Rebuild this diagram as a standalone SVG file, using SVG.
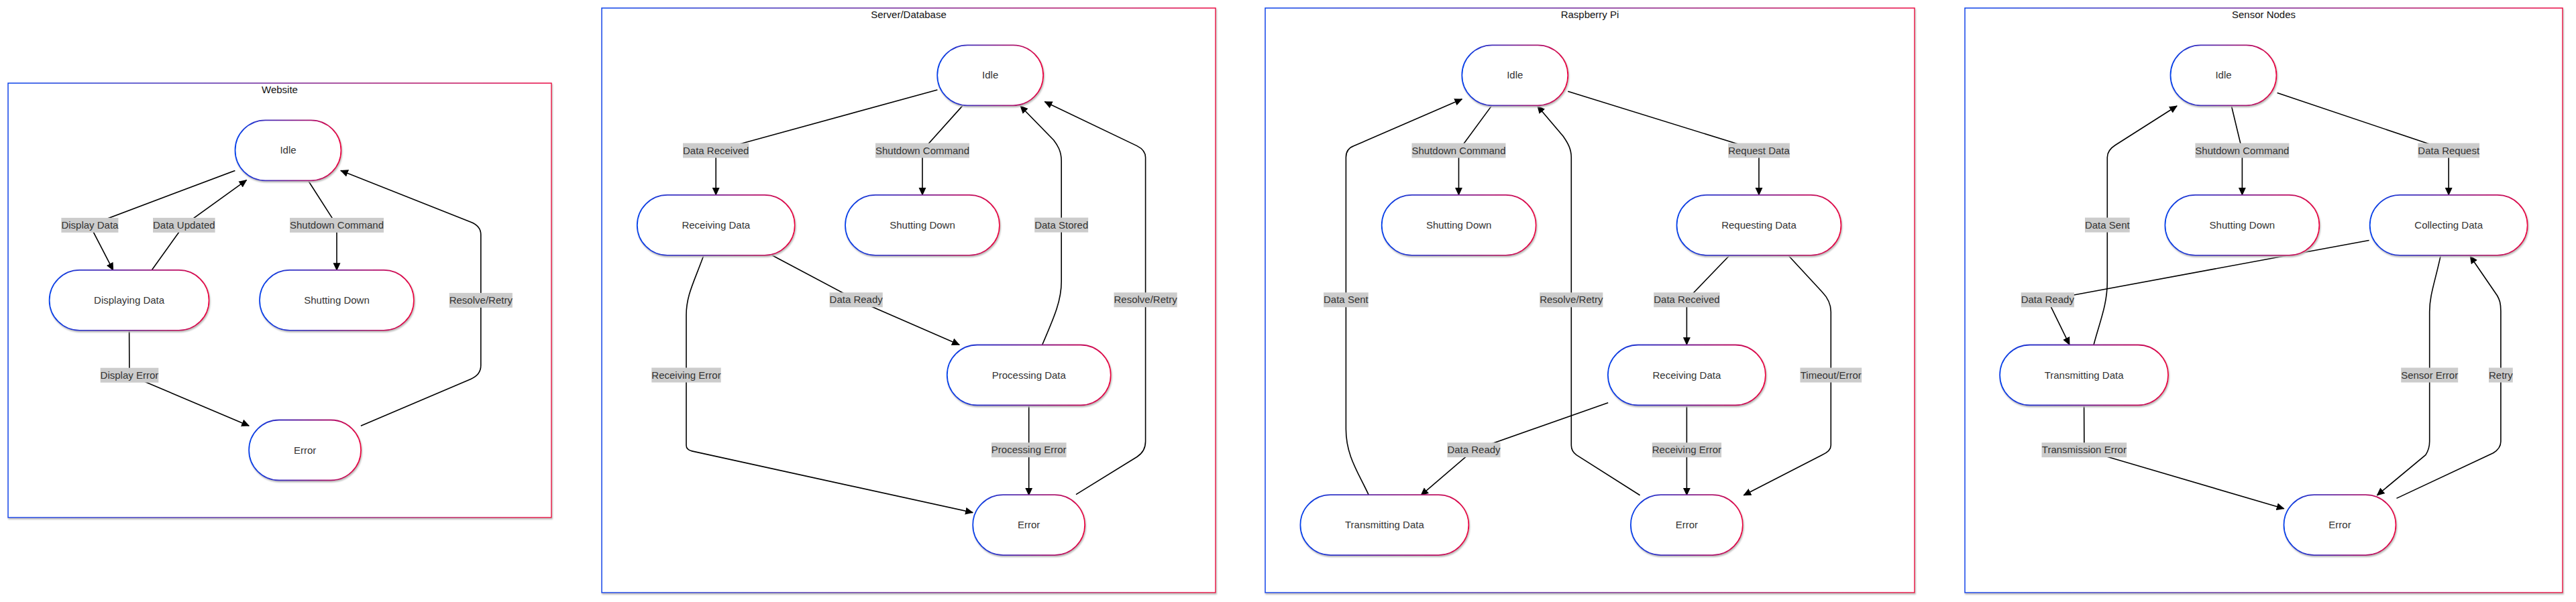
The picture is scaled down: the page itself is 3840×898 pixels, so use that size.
<svg xmlns="http://www.w3.org/2000/svg" width="3840" height="898" viewBox="0 0 3840 898">
<style>
.bg{fill:#ffffff}
.cluster{fill:#ffffff;stroke:url(#grad);stroke-width:1.5;filter:url(#shadow)}
.ctitle{font-family:"Liberation Sans",Arial,sans-serif;font-size:15px;fill:#111;text-anchor:middle}
.node rect{fill:#ffffff;stroke:url(#grad);stroke-width:1.8;filter:url(#shadow)}
.node text{font-family:"Liberation Sans",Arial,sans-serif;font-size:15px;fill:#333;text-anchor:middle}
.edge{fill:none;stroke:#000;stroke-width:1.6;marker-end:url(#arrow)}
.lbl rect{fill:#cccccc}
.lbl text{font-family:"Liberation Sans",Arial,sans-serif;font-size:15px;fill:#333;text-anchor:middle}
</style>
<defs>
<linearGradient id="grad" x1="0" y1="0" x2="1" y2="0">
<stop offset="0" stop-color="#0042eb"/>
<stop offset="1" stop-color="#eb0042"/>
</linearGradient>
<filter id="shadow" x="-10%" y="-10%" width="120%" height="130%">
<feDropShadow dx="1" dy="2" stdDeviation="1" flood-color="#b9b9b9" flood-opacity="1"/>
</filter>
<marker id="arrow" viewBox="0 0 12 12" refX="11" refY="6" markerWidth="12" markerHeight="12" markerUnits="userSpaceOnUse" orient="auto">
<path d="M0,0.5 L12,6 L0,11.5 z" fill="#000"/>
</marker>
</defs>
<rect class="bg" x="0" y="0" width="3840" height="898"/>

<g id="clusters">
<g id="cluster-website"><rect class="cluster" x="12" y="124" width="810" height="648"/><text class="ctitle" x="417" y="139">Website</text></g>
<g id="cluster-server"><rect class="cluster" x="897" y="12" width="915" height="872"/><text class="ctitle" x="1354.5" y="27">Server/Database</text></g>
<g id="cluster-rpi"><rect class="cluster" x="1886" y="12" width="968" height="872"/><text class="ctitle" x="2370" y="27">Raspberry Pi</text></g>
<g id="cluster-sensor"><rect class="cluster" x="2929" y="12" width="891" height="872"/><text class="ctitle" x="3374.5" y="27">Sensor Nodes</text></g>
</g>

<g id="connectors">
<!-- Website -->
<path class="edge" d="M350.4,254.4 L133.9,335.9 L168.7,403.2"/>
<path class="edge" d="M226,403.2 L274.3,335.9 L367.5,268.7"/>
<path class="edge" d="M459,268.7 L502,335.9 L502,403.2"/>
<path class="edge" d="M192.6,492.5 L192.9,559.7 L371.2,635.2"/>
<path class="edge" d="M537.9,635.2 L701.8,565.4 Q716.8,559 716.8,545 L716.8,350 Q716.8,337 701.8,331.2 L507.9,254.4"/>
<!-- Server -->
<path class="edge" d="M1397.4,134 L1067.2,224.5 L1067.2,290.9"/>
<path class="edge" d="M1435.6,156.9 L1375,224.5 L1375,290.9"/>
<path class="edge" d="M1150.8,380.8 L1276.2,447.3 L1430.1,514.3"/>
<path class="edge" d="M1553.7,514.3 C1570,476 1582.2,450 1582.2,420 L1582.2,240 C1582.2,225 1576,216 1570.7,209 L1521,158"/>
<path class="edge" d="M1604,737.6 L1694.9,681.5 Q1707.6,673.5 1707.6,658.6 L1707.6,234.8 Q1707.6,224 1694.9,217.6 L1557.4,151.8"/>
<path class="edge" d="M1049,380.8 C1035,420 1023,440 1023,470 L1023,664.3 Q1023,671 1031.5,672.9 L1450.1,764.6"/>
<path class="edge" d="M1533.7,604.2 L1533.7,738.8"/>
<!-- Raspberry Pi -->
<path class="edge" d="M2224.2,156.9 L2174.5,224.5 L2174.5,290.9"/>
<path class="edge" d="M2337.2,136.3 L2622,224.5 L2622,290.9"/>
<path class="edge" d="M2578.4,380.8 L2514.4,447.3 L2514.4,514.3"/>
<path class="edge" d="M2665.6,380.8 L2716,435.3 Q2729.3,449 2729.3,465 L2729.3,664.3 Q2729.3,673 2716,678.7 L2599.3,738.8"/>
<path class="edge" d="M2397.2,600.8 L2197,671.2 L2118.1,738.8"/>
<path class="edge" d="M2514.4,604.2 L2514.4,738.8"/>
<path class="edge" d="M2040.5,738.8 C2025,705 2006.4,680 2006.4,640 L2006.4,234.8 Q2006.4,222 2018.4,217.6 L2179.4,147.8"/>
<path class="edge" d="M2444.6,738.8 L2349.9,678.7 Q2342.3,673 2342.3,664.3 L2342.3,234.8 C2342.3,222 2337,213 2330,203 L2291.8,158"/>
<!-- Sensor Nodes -->
<path class="edge" d="M3326.4,158 L3342.4,224.5 L3342.4,290.9"/>
<path class="edge" d="M3394.6,138.6 L3650.2,224.5 L3650.2,290.9"/>
<path class="edge" d="M3531.6,358.5 L3052.3,447.3 L3085,514.3"/>
<path class="edge" d="M3121.1,514.3 C3130,480 3141.3,455 3141.3,420 L3141.3,234.8 Q3141.3,224 3153.2,216.5 L3245.1,158"/>
<path class="edge" d="M3106.6,604.2 L3106.9,671.2 L3404.7,758.8"/>
<path class="edge" d="M3638.3,380.8 C3630,420 3621.7,440 3621.7,465 L3621.7,658.6 Q3621.7,670 3615.8,678.7 L3543.4,738.8"/>
<path class="edge" d="M3572.5,743.4 L3716.6,675.8 Q3727.9,669 3727.9,658.6 L3727.9,463.9 C3727.9,452 3726,447 3722.6,441 L3682.2,382"/>

<g id="edge-labels">
<g class="lbl"><rect x="91.4" y="324.9" width="85" height="22"/><text x="133.9" y="340.9">Display Data</text></g>
<g class="lbl"><rect x="228" y="324.9" width="92.6" height="22"/><text x="274.3" y="340.9">Data Updated</text></g>
<g class="lbl"><rect x="432" y="324.9" width="140" height="22"/><text x="502" y="340.9">Shutdown Command</text></g>
<g class="lbl"><rect x="669.7" y="436.9" width="94.2" height="22"/><text x="716.8" y="452.9">Resolve/Retry</text></g>
<g class="lbl"><rect x="149.6" y="548.7" width="86.7" height="22"/><text x="192.9" y="564.7">Display Error</text></g>

<g class="lbl"><rect x="1018" y="213.5" width="98.4" height="22"/><text x="1067.2" y="229.5">Data Received</text></g>
<g class="lbl"><rect x="1305" y="213.5" width="140" height="22"/><text x="1375" y="229.5">Shutdown Command</text></g>
<g class="lbl"><rect x="1542.2" y="324.6" width="80" height="22"/><text x="1582.2" y="340.6">Data Stored</text></g>
<g class="lbl"><rect x="1236.6" y="436.3" width="79.2" height="22"/><text x="1276.2" y="452.3">Data Ready</text></g>
<g class="lbl"><rect x="1660.5" y="436.3" width="94.2" height="22"/><text x="1707.6" y="452.3">Resolve/Retry</text></g>
<g class="lbl"><rect x="971.3" y="548.5" width="103.4" height="22"/><text x="1023" y="564.5">Receiving Error</text></g>
<g class="lbl"><rect x="1477.9" y="660.2" width="111.7" height="22"/><text x="1533.7" y="676.2">Processing Error</text></g>

<g class="lbl"><rect x="2104.5" y="213.5" width="140" height="22"/><text x="2174.5" y="229.5">Shutdown Command</text></g>
<g class="lbl"><rect x="2576.2" y="213.5" width="91.7" height="22"/><text x="2622" y="229.5">Request Data</text></g>
<g class="lbl"><rect x="1973.1" y="436.3" width="66.7" height="22"/><text x="2006.4" y="452.3">Data Sent</text></g>
<g class="lbl"><rect x="2295.2" y="436.3" width="94.2" height="22"/><text x="2342.3" y="452.3">Resolve/Retry</text></g>
<g class="lbl"><rect x="2465.2" y="436.3" width="98.4" height="22"/><text x="2514.4" y="452.3">Data Received</text></g>
<g class="lbl"><rect x="2683.5" y="548.5" width="91.7" height="22"/><text x="2729.3" y="564.5">Timeout/Error</text></g>
<g class="lbl"><rect x="2157.4" y="660.2" width="79.2" height="22"/><text x="2197" y="676.2">Data Ready</text></g>
<g class="lbl"><rect x="2462.7" y="660.2" width="103.4" height="22"/><text x="2514.4" y="676.2">Receiving Error</text></g>

<g class="lbl"><rect x="3272.4" y="213.5" width="140" height="22"/><text x="3342.4" y="229.5">Shutdown Command</text></g>
<g class="lbl"><rect x="3604.4" y="213.5" width="91.7" height="22"/><text x="3650.2" y="229.5">Data Request</text></g>
<g class="lbl"><rect x="3108" y="324.6" width="66.7" height="22"/><text x="3141.3" y="340.6">Data Sent</text></g>
<g class="lbl"><rect x="3012.7" y="436.3" width="79.2" height="22"/><text x="3052.3" y="452.3">Data Ready</text></g>
<g class="lbl"><rect x="3579.2" y="548.5" width="85" height="22"/><text x="3621.7" y="564.5">Sensor Error</text></g>
<g class="lbl"><rect x="3710" y="548.5" width="35.8" height="22"/><text x="3727.9" y="564.5">Retry</text></g>
<g class="lbl"><rect x="3043.5" y="660.2" width="126.7" height="22"/><text x="3106.9" y="676.2">Transmission Error</text></g>
</g>
</g>

<g id="nodes">
<g id="web-idle" class="node"><rect x="350.5" y="179.3" width="158" height="90" rx="45"/><text x="429.5" y="229.3">Idle</text></g>
<g id="web-displaying" class="node"><rect x="73.6" y="402.9" width="238" height="90" rx="45"/><text x="192.6" y="452.9">Displaying Data</text></g>
<g id="web-shutting" class="node"><rect x="387" y="402.9" width="230" height="90" rx="45"/><text x="502" y="452.9">Shutting Down</text></g>
<g id="web-error" class="node"><rect x="371.1" y="626.5" width="167" height="90" rx="45"/><text x="454.6" y="676.5">Error</text></g>

<g id="srv-idle" class="node"><rect x="1397.2" y="67.3" width="158" height="90" rx="45"/><text x="1476.2" y="117.3">Idle</text></g>
<g id="srv-receiving" class="node"><rect x="949.8" y="290.9" width="235" height="90" rx="45"/><text x="1067.3" y="340.9">Receiving Data</text></g>
<g id="srv-shutting" class="node"><rect x="1260" y="290.9" width="230" height="90" rx="45"/><text x="1375" y="340.9">Shutting Down</text></g>
<g id="srv-processing" class="node"><rect x="1411.8" y="514.5" width="244" height="90" rx="45"/><text x="1533.8" y="564.5">Processing Data</text></g>
<g id="srv-error" class="node"><rect x="1450.2" y="738.1" width="167" height="90" rx="45"/><text x="1533.7" y="788.1">Error</text></g>

<g id="rpi-idle" class="node"><rect x="2179.3" y="67.3" width="158" height="90" rx="45"/><text x="2258.3" y="117.3">Idle</text></g>
<g id="rpi-shutting" class="node"><rect x="2059.7" y="290.9" width="230" height="90" rx="45"/><text x="2174.7" y="340.9">Shutting Down</text></g>
<g id="rpi-requesting" class="node"><rect x="2499.5" y="290.9" width="245" height="90" rx="45"/><text x="2622" y="340.9">Requesting Data</text></g>
<g id="rpi-receiving" class="node"><rect x="2396.9" y="514.5" width="235" height="90" rx="45"/><text x="2514.4" y="564.5">Receiving Data</text></g>
<g id="rpi-transmitting" class="node"><rect x="1938.4" y="738.1" width="251" height="90" rx="45"/><text x="2063.9" y="788.1">Transmitting Data</text></g>
<g id="rpi-error" class="node"><rect x="2430.9" y="738.1" width="167" height="90" rx="45"/><text x="2514.4" y="788.1">Error</text></g>

<g id="sn-idle" class="node"><rect x="3235.5" y="67.3" width="158" height="90" rx="45"/><text x="3314.5" y="117.3">Idle</text></g>
<g id="sn-shutting" class="node"><rect x="3227.4" y="290.9" width="230" height="90" rx="45"/><text x="3342.4" y="340.9">Shutting Down</text></g>
<g id="sn-collecting" class="node"><rect x="3532.7" y="290.9" width="235" height="90" rx="45"/><text x="3650.2" y="340.9">Collecting Data</text></g>
<g id="sn-transmitting" class="node"><rect x="2981.1" y="514.5" width="251" height="90" rx="45"/><text x="3106.6" y="564.5">Transmitting Data</text></g>
<g id="sn-error" class="node"><rect x="3404.5" y="738.1" width="167" height="90" rx="45"/><text x="3488" y="788.1">Error</text></g>
</g>
</svg>
